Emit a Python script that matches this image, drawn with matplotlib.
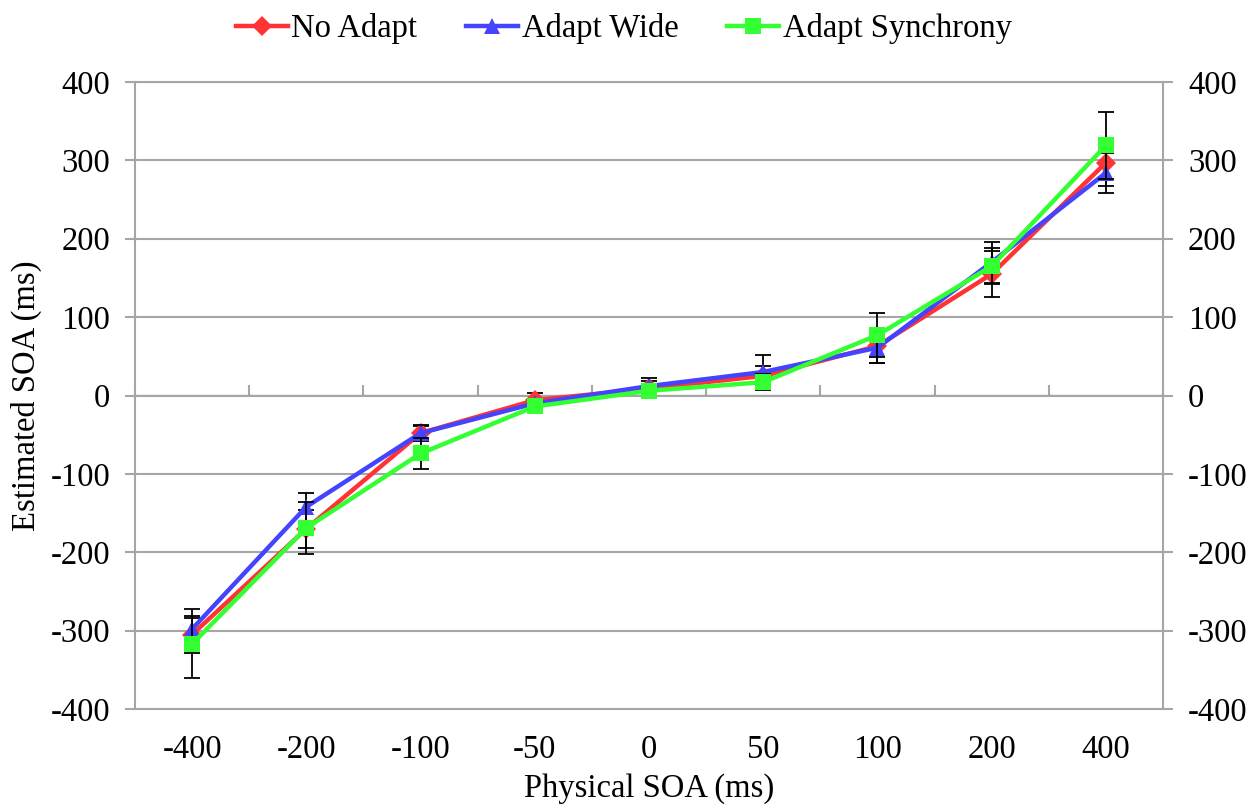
import numpy as np
import matplotlib.pyplot as plt

plt.rcParams['font.family'] = ['Liberation Serif', 'DejaVu Serif']

# physical SOA categories (ms)
categories = ['-400', '-200', '-100', '-50', '0', '50', '100', '200', '400']

no_adapt = [-305, -170, -48, -6, 9, 25, 63, 155, 297]
no_adapt_err = [24, 24, 9, 9, 10, 13, 22, 29, 30]

adapt_wide = [-298, -142, -48, -10, 12, 30, 61, 170, 284]
adapt_wide_err = [14, 18, 10, 6, 10, 22, 20, 26, 26]

adapt_sync = [-317, -169, -74, -14, 6, 17, 77, 165, 319]
adapt_sync_err = [44, 33, 20, 8, 8, 10, 28, 23, 43]

y_ticks = [-400, -300, -200, -100, 0, 100, 200, 300, 400]

grey = '#a6a6a6'
fs = 23.5

fig = plt.figure(figsize=(12.6, 8.07), dpi=100)
ax = fig.add_axes([135 / 1260, 1 - 709 / 807, (1163 - 135) / 1260, (709 - 82) / 807])

x = np.arange(len(categories))

series = [
    ('No Adapt', no_adapt, no_adapt_err, '#ff3333', 'D', 10),
    ('Adapt Wide', adapt_wide, adapt_wide_err, '#4444ff', '^', 12),
    ('Adapt Synchrony', adapt_sync, adapt_sync_err, '#33ff33', 's', 12),
]

for i, (name, vals, err, col, mk, ms) in enumerate(series):
    ax.errorbar(x, vals, yerr=err, fmt='none', ecolor='black', elinewidth=1.3,
                capsize=6, capthick=1.3, zorder=3 + i)
    ax.plot(x, vals, color=col, lw=3.2, marker=mk, markersize=ms,
            markeredgewidth=0, label=name, zorder=3 + i)

ax.set_xlim(-0.5, len(categories) - 0.5)
ax.set_ylim(-400, 400)
ax.set_yticks(y_ticks)
ax.set_yticklabels([str(v) for v in y_ticks])
ax.set_xticks(x)
ax.set_xticklabels(categories)

ax.grid(axis='y', color=grey, lw=1.5, zorder=0)
for s in ax.spines.values():
    s.set_color(grey)
    s.set_linewidth(1.5)

ax.tick_params(axis='x', length=0, pad=18, labelsize=fs)
ax.tick_params(axis='y', which='both', direction='out', length=7, width=1.5,
               color=grey, labelsize=fs, pad=11, left=True, right=True,
               labelleft=True, labelright=True)

# horizontal axis line crossing at zero, with category boundary ticks
secax = ax.secondary_xaxis(0.5)
secax.set_xticks(np.arange(-0.5, len(categories), 1.0))
secax.set_xticklabels([])
secax.tick_params(direction='out', length=7, width=1.5, color=grey)
secax.spines['bottom'].set_color(grey)
secax.spines['bottom'].set_linewidth(1.5)

ax.set_xlabel('Physical SOA (ms)', fontsize=fs, labelpad=6)
ax.set_ylabel('Estimated SOA (ms)', fontsize=fs, labelpad=6)

fig.legend(loc='upper center', bbox_to_anchor=(0.495, 1.02), ncol=3,
           frameon=False, fontsize=fs, handlelength=1.6, handletextpad=0.1,
           columnspacing=1.5)

fig.savefig('out.png', dpi=100)
